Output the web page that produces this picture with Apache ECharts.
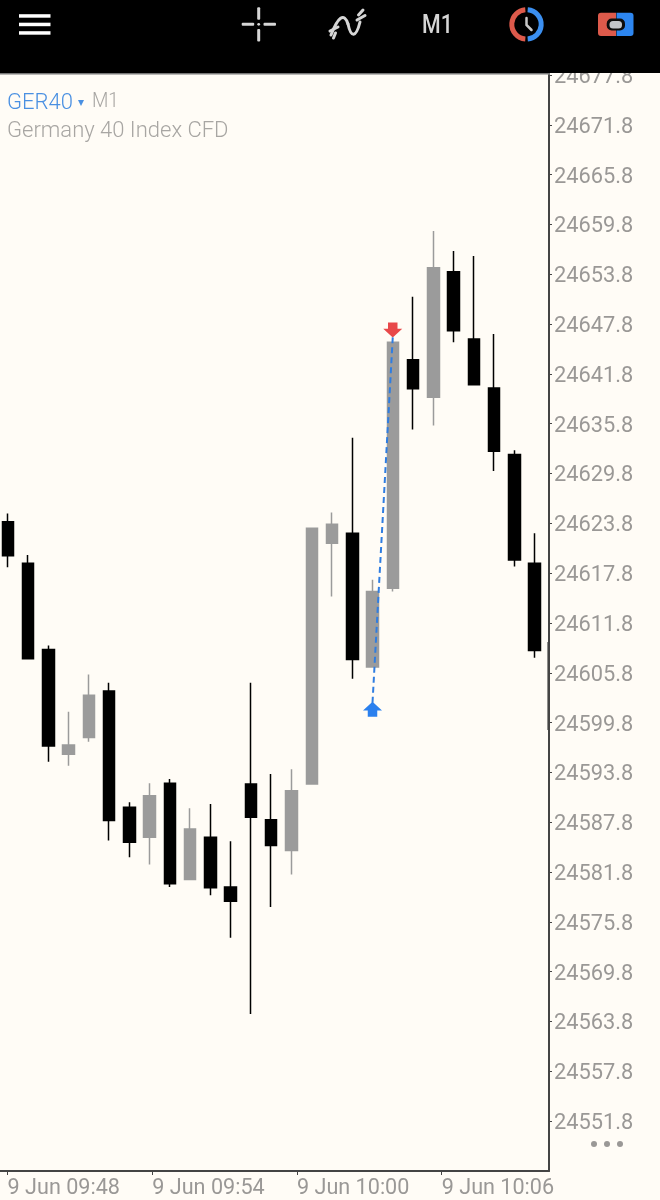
<!DOCTYPE html>
<html>
<head>
<meta charset="utf-8">
<style>html,body{margin:0;padding:0;background:#fffcf6}#c{width:660px;height:1200px}</style>
<script src="https://cdn.jsdelivr.net/npm/echarts@6/dist/echarts.min.js"></script>
</head>
<body>
<div id="c"></div>
<script>
var candleIndex = [0,1,2,3,4,5,6,7,8,9,10,11,12,13,14,15,16,17,18,19,20,21,22,23,24,25,26];
var opens  = [24624.0,24619.0,24608.6,24596.0,24598.0,24603.6,24589.6,24586.0,24592.5,24580.9,24586.0,24580.0,24592.4,24588.1,24584.4,24592.4,24621.4,24622.6,24606.5,24616.0,24643.5,24639.0,24654.1,24646.0,24640.1,24632.1,24619.0];
var closes = [24619.9,24607.5,24597.0,24597.1,24603.1,24588.0,24585.4,24591.0,24580.4,24587.0,24579.9,24578.3,24588.4,24585.0,24591.6,24623.2,24623.7,24607.4,24615.6,24645.6,24640.0,24654.6,24647.0,24640.5,24632.5,24619.4,24608.5];
var lows   = [24618.5,24607.5,24595.1,24594.6,24597.5,24585.6,24583.6,24582.7,24580.0,24580.9,24579.0,24573.9,24564.7,24577.6,24581.5,24592.4,24615.0,24605.1,24606.5,24615.6,24635.1,24635.6,24645.6,24640.5,24630.1,24618.6,24607.6];
var highs  = [24625.0,24620.0,24609.1,24601.1,24605.6,24604.6,24590.2,24592.5,24593.0,24589.5,24590.0,24585.5,24604.6,24593.6,24594.2,24623.2,24625.1,24634.1,24617.0,24645.6,24651.1,24659.0,24656.6,24656.0,24646.6,24632.6,24622.6];
var priceTicks = [24551.8,24557.8,24563.8,24569.8,24575.8,24581.8,24587.8,24593.8,24599.8,24605.8,24611.8,24617.8,24623.8,24629.8,24635.8,24641.8,24647.8,24653.8,24659.8,24665.8,24671.8,24677.8];
var timeTicks = [588,594,600,606];
var timeLabels = ['9 Jun 09:48','9 Jun 09:54','9 Jun 10:00','9 Jun 10:06'];
var buyTrade = [18,24602.2];
var sellTrade = [19,24646.2];
var buyArrow = [18,24601.4];
var sellArrow = [19,24647.1];

var candleRows = candleIndex.map(function(x,i){return [x,opens[i],closes[i],lows[i],highs[i]];});
var GRAY='#9b9b9b', AXIS='#444444', TXT='#9a9896', ICON='#d6d6d6';
var F='Roboto';
function rect(x,y,w,h,fill,r){return {type:'rect',z:100,shape:{x:x,y:y,width:w,height:h,r:r||0},style:{fill:fill}};}
function stroke(c,w){return {stroke:c,lineWidth:w,fill:null,lineCap:'round'};}
var PI=Math.PI;

var chart=echarts.init(document.getElementById('c'),null,{renderer:'canvas'});
chart.setOption({
  animation:false,
  backgroundColor:'#fffcf6',
  grid:{left:0,top:75,width:549,height:1097,containLabel:false},
  xAxis:[
    {type:'value',min:-0.395,max:26.716,show:false,gridIndex:0},
    {type:'value',gridIndex:0,position:'bottom',min:587.685,max:610.447,
      axisLine:{show:true,onZero:false,lineStyle:{color:AXIS,width:2}},
      axisTick:{show:true,customValues:timeTicks,length:4,lineStyle:{color:AXIS,width:1}},
      splitLine:{show:false},
      axisLabel:{show:true,customValues:timeTicks,align:'left',margin:7,color:TXT,fontFamily:F,fontSize:21.6,hideOverlap:false,
        formatter:function(v){return timeLabels[timeTicks.indexOf(Math.round(v))]||'';}}
    }
  ],
  yAxis:{type:'value',position:'right',min:24545.8,max:24677.8,
    axisLine:{show:true,onZero:false,lineStyle:{color:AXIS,width:2}},
    axisTick:{show:true,customValues:priceTicks,length:3,lineStyle:{color:AXIS,width:1}},
    splitLine:{show:false},
    axisLabel:{show:true,customValues:priceTicks,margin:5,verticalAlign:'top',lineHeight:5,color:TXT,fontFamily:F,fontSize:21.8,hideOverlap:false,
      formatter:function(v){return v.toFixed(1);}}
  },
  series:[
    {type:'candlestick',xAxisIndex:0,yAxisIndex:0,barWidth:12,data:candleRows,encode:{x:0,y:[1,2,3,4]},
      itemStyle:{color:GRAY,color0:'#000',borderColor:GRAY,borderColor0:'#000',borderWidth:1.5}},
    {type:'line',xAxisIndex:0,yAxisIndex:0,data:[buyTrade,sellTrade],symbol:'none',z:5,
      lineStyle:{color:'#2f7de1',width:2,type:[6,4]},
      markPoint:{animation:false,silent:true,label:{show:false},data:[
        {coord:buyArrow,symbol:'path://M9,0 L18,8 H13.5 V14 H4.5 V8 H0 Z',symbolSize:[19,15],itemStyle:{color:'#2b80ee'}},
        {coord:sellArrow,symbol:'path://M4.5,0 H13.5 V6 H18 L9,14 L0,6 H4.5 Z',symbolSize:[19,15],itemStyle:{color:'#e8484a'}}
      ]}}
  ],
  graphic:{elements:[
    rect(0,0,660,73,'#000'),
    rect(0,73,550,1.5,'#777'),
    rect(547.4,642,1.4,88,'#444'),
    rect(19,14.2,31.5,3.5,'#fff'),rect(19,22.7,31.5,3.5,'#fff'),rect(19,31.2,31.5,3.5,'#fff'),
    rect(241.7,22.8,12.5,3,ICON,1),rect(263.5,22.8,12.5,3,ICON,1),
    rect(257.2,7.3,3,12.5,ICON,1),rect(257.2,29,3,12.5,ICON,1),
    {type:'circle',z:100,shape:{cx:258.7,cy:24.3,r:1.4},style:{fill:ICON}},
    {type:'bezierCurve',z:100,shape:{x1:331,y1:35,cpx1:338,cpy1:17,cpx2:344,cpy2:12,x2:348,y2:24},style:stroke(ICON,3)},
    {type:'bezierCurve',z:100,shape:{x1:348,y1:24,cpx1:351,cpy1:38,cpx2:356,cpy2:38,x2:360,y2:22},style:stroke(ICON,3)},
    {type:'line',z:100,shape:{x1:330,y1:31,x2:338,y2:27},style:stroke(ICON,3)},
    {type:'line',z:100,shape:{x1:333.5,y1:38,x2:335.5,y2:33},style:stroke(ICON,3)},
    {type:'line',z:100,shape:{x1:357,y1:20,x2:365,y2:15.5},style:stroke(ICON,3)},
    {type:'line',z:100,shape:{x1:358.5,y1:15,x2:363,y2:10},style:stroke(ICON,3)},
    {type:'text',z:100,x:422,y:13.5,scaleX:0.82,style:{text:'M1',fill:ICON,fontFamily:F,fontSize:26,fontWeight:500}},
    {type:'arc',z:100,shape:{cx:526.5,cy:24.3,r:14.7,startAngle:PI/2+0.08,endAngle:3*PI/2-0.08,clockwise:true},style:{stroke:'#dd5a4b',lineWidth:5,fill:null}},
    {type:'arc',z:100,shape:{cx:526.5,cy:24.3,r:14.7,startAngle:-PI/2+0.08,endAngle:PI/2-0.08,clockwise:true},style:{stroke:'#3b8ff0',lineWidth:5,fill:null}},
    {type:'polyline',z:100,shape:{points:[[526.5,18],[526.5,25],[531.5,30]]},style:stroke('#c8c8c8',2.5)},
    rect(598,12.7,18,23.3,'#dd5a4b',[3,0,0,3]),
    rect(616.5,12.7,17,23.3,'#2d86f0',[0,3,3,0]),
    rect(606.7,18.5,18.3,12,'#0d0d0d',5),
    rect(609.5,21,12.5,7.5,'#c2c5c9',3.5),
    {type:'text',z:100,x:7,y:92,style:{text:'GER40',fill:'#4a90e2',fontFamily:F,fontSize:22,fontWeight:300}},
    {type:'text',z:100,x:78,y:97,style:{text:'▾',fill:'#4a90e2',fontFamily:'DejaVu Sans',fontSize:12}},
    {type:'text',z:100,x:92,y:91.5,scaleX:0.9,style:{text:'M1',fill:'#a8a6a3',fontFamily:F,fontSize:21,fontWeight:300}},
    {type:'text',z:100,x:7,y:120,style:{text:'Germany 40 Index CFD',fill:'#a8a6a3',fontFamily:F,fontSize:22,fontWeight:300}},
    {type:'circle',z:100,shape:{cx:594,cy:1144,r:3},style:{fill:'#9a9896'}},
    {type:'circle',z:100,shape:{cx:607,cy:1144,r:3},style:{fill:'#9a9896'}},
    {type:'circle',z:100,shape:{cx:620,cy:1144,r:3},style:{fill:'#9a9896'}}
  ]}
});
</script>
</body>
</html>
